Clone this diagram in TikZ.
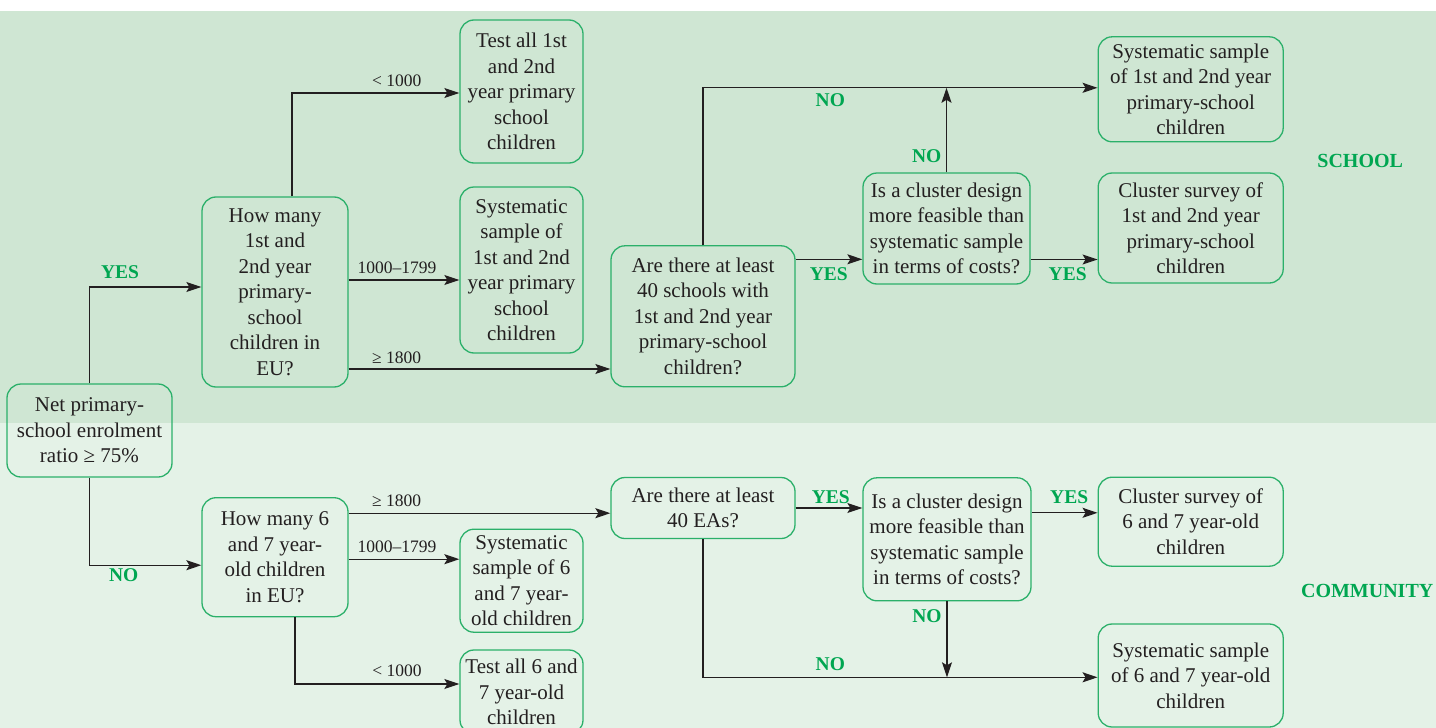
\documentclass[tikz,border=0pt]{standalone}
\usepackage{fontspec}
\setmainfont{Liberation Serif}
\usetikzlibrary{arrows.meta,calc}
\definecolor{bandtop}{HTML}{CFE6D3}
\definecolor{bandbot}{HTML}{E4F2E7}
\definecolor{edge}{HTML}{2BB06A}
\definecolor{lab}{HTML}{00A651}
\definecolor{ink}{HTML}{231F20}

\begin{document}
\begin{tikzpicture}[x=1pt,y=-1pt,
  box/.style={draw=edge, line width=1.3pt, rounded corners=14pt, align=center,
    inner sep=1pt, text=ink, font=\fontsize{21}{25.5}\selectfont},
  arr/.style={draw=ink, line width=1.2pt, -{Stealth[length=15pt,width=10pt,inset=3pt]}},
  ans/.style={text=lab, font=\fontsize{19.5}{20}\selectfont\bfseries, inner sep=0pt},
  num/.style={text=ink, font=\fontsize{17.5}{20}\selectfont, inner sep=0pt},
  region/.style={text=lab, font=\fontsize{20}{20}\selectfont\bfseries, inner sep=0pt}]

\useasboundingbox (0,0) rectangle (1436,728);
% background bands
\fill[white] (0,0) rectangle (1436,11);
\fill[bandtop] (0,11) rectangle (1436,423);
\fill[bandbot] (0,423) rectangle (1436,728);

% decision and outcome boxes
\node[box, minimum width=165pt, minimum height=93pt] (start) at (89.5,430.5)
  {Net primary-\\school enrolment\\ratio ≥ 75\%};

\node[box, minimum width=146pt, minimum height=190pt] (q1) at (275,292)
  {How many\\1st and\\2nd year\\primary-\\school\\children in\\EU?};
\node[box, minimum width=123pt, minimum height=143pt] (t1) at (521.5,91.5)
  {Test all 1st\\and 2nd\\year primary\\school\\children};
\node[box, minimum width=123pt, minimum height=166pt] (t2) at (521.5,270)
  {Systematic\\sample of\\1st and 2nd\\year primary\\school\\children};
\node[box, minimum width=184pt, minimum height=141pt] (q3) at (703,316.3)
  {Are there at least\\40 schools with\\1st and 2nd year\\primary-school\\children?};
\node[box, minimum width=167pt, minimum height=111pt] (q4) at (946.5,228.5)
  {Is a cluster design\\more feasible than\\systematic sample\\in terms of costs?};
\node[box, minimum width=185pt, minimum height=105pt] (r1) at (1190.7,89.3)
  {Systematic sample\\of 1st and 2nd year\\primary-school\\children};
\node[box, minimum width=185pt, minimum height=110pt] (r2) at (1190.7,228)
  {Cluster survey of\\1st and 2nd year\\primary-school\\children};

\node[box, minimum width=146pt, minimum height=119pt] (q2) at (275,557.2)
  {How many 6\\and 7 year-\\old children\\in EU?};
\node[box, minimum width=123pt, minimum height=103pt] (t3) at (521.5,580.7)
  {Systematic\\sample of 6\\and 7 year-\\old children};
\node[box, minimum width=123pt, minimum height=84pt] (t4) at (521.5,692)
  {Test all 6 and\\7 year-old\\children};
\node[box, minimum width=184pt, minimum height=61pt] (q5) at (703,508)
  {Are there at least\\40 EAs?};
\node[box, minimum width=168pt, minimum height=123pt] (q6) at (947,539.3)
  {Is a cluster design\\more feasible than\\systematic sample\\in terms of costs?};
\node[box, minimum width=185pt, minimum height=89pt] (r3) at (1190.7,521.7)
  {Cluster survey of\\6 and 7 year-old\\children};
\node[box, minimum width=185pt, minimum height=103pt] (r4) at (1190.7,675.5)
  {Systematic sample\\of 6 and 7 year-old\\children};

% connectors
\draw[arr] (start.north) |- ([yshift=5pt]q1.west);
\draw[arr] (start.south) |- ([yshift=-8pt]q2.west);

\draw[arr] ([xshift=17pt]q1.north) |- ([yshift=-1.5pt]t1.west);
\draw[arr] ([yshift=12pt]q1.east) coordinate (p1) -- (p1 -| t2.west);
\draw[arr] ([yshift=-77pt]q1.east) coordinate (p2) -- (p2 -| q3.west);

\coordinate (topline) at ([yshift=1.5pt]r1.west);
\draw[arr] (q3.north) |- (topline);
\draw[arr] (q4.north) -- (q4.north |- topline);
\draw[arr] ([yshift=57pt]q3.east) coordinate (p3) -- (p3 -| q4.west);
\draw[arr] ([yshift=-31pt]q4.east) coordinate (p4) -- (p4 -| r2.west);

\draw[arr] ([yshift=44pt]q2.east) coordinate (p5) -- (p5 -| q5.west);
\draw[arr] ([yshift=-2pt]q2.east) coordinate (p6) -- (p6 -| t3.west);
\draw[arr] ([xshift=20pt]q2.south) |- ([yshift=8pt]t4.west);

\draw[arr] (q5.east) coordinate (p7) -- (p7 -| q6.west);
\draw[arr] ([yshift=26.5pt]q6.east) coordinate (p8) -- (p8 -| r3.west);
\coordinate (botline) at ([yshift=-1.8pt]r4.west);
\draw[arr] (q5.south) |- (botline);
\draw[arr] (q6.south) -- (q6.south |- botline);

% branch labels
\node[ans] (yes1) at (120,272) {YES};
\node[ans] (no1) at (123.7,575.5) {NO};
\node[num] (lt1) at (396.7,81) {< 1000};
\node[num] (mid1) at (397,268) {1000–1799};
\node[num] (ge1) at (396.7,358) {≥ 1800};
\node[ans] (no2) at (830.3,100.3) {NO};
\node[ans] (no3) at (926.7,156.3) {NO};
\node[ans] (yes2) at (828.8,274.2) {YES};
\node[ans] (yes3) at (1067.7,274.2) {YES};

\node[num] (ge2) at (396.7,501.2) {≥ 1800};
\node[num] (mid2) at (397,546.7) {1000–1799};
\node[num] (lt2) at (397,670.5) {< 1000};
\node[ans] (yes4) at (830.8,497.2) {YES};
\node[ans] (yes5) at (1069.2,497.2) {YES};
\node[ans] (no4) at (927,616.3) {NO};
\node[ans] (no5) at (830.3,664.5) {NO};

% band titles
\node[region] (school) at (1360.2,161.2) {SCHOOL};
\node[region] (community) at (1367.2,591.2) {COMMUNITY};
\end{tikzpicture}
\end{document}
